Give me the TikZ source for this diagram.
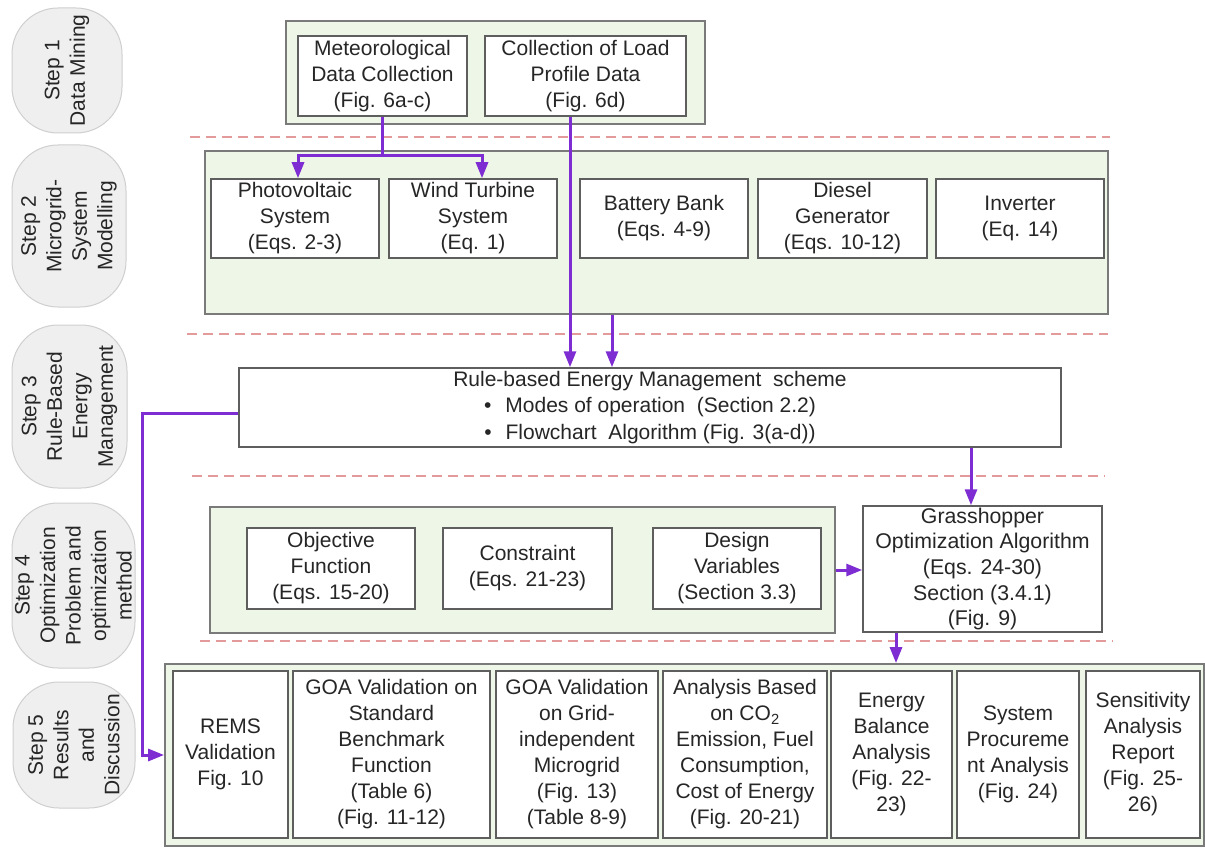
\documentclass[tikz,border=0pt]{standalone}
\usepackage{fontspec}
\setmainfont{Liberation Sans}
\usetikzlibrary{arrows.meta}
\definecolor{grp}{HTML}{EEF6E7}
\definecolor{grpline}{HTML}{7A7A7A}
\definecolor{boxline}{HTML}{5E5E5E}
\definecolor{pur}{RGB}{125,45,210}
\definecolor{dashcol}{HTML}{E39A9A}
\definecolor{stepfill}{HTML}{EFEFEF}
\definecolor{stepline}{HTML}{CFCFCF}
\definecolor{txt}{HTML}{262626}
\begin{document}
\begin{tikzpicture}[x=1pt,y=-1pt,
  grpbox/.style={draw=grpline, fill=grp, line width=1.8pt, inner sep=0pt},
  ibox/.style={draw=boxline, fill=white, line width=1.5pt, inner sep=0pt, align=center, text=txt, font=\fontsize{21}{26}\selectfont},
  stepbox/.style={draw=stepline, fill=stepfill, line width=1pt, rounded corners=46pt, rotate=90, align=center, text=txt, font=\fontsize{21}{25.5}\selectfont, inner sep=0pt},
  pa/.style={draw=pur, line width=3pt, -{Triangle[length=16pt,width=12pt]}},
  dline/.style={draw=dashcol, line width=1.6pt, dash pattern=on 10pt off 6pt},
]
\useasboundingbox (0,0) rectangle (1205,848);

% step labels
\node[stepbox, minimum width=125pt, minimum height=110pt] (s1) at (67,70.5) {Step 1\\Data Mining};
\node[stepbox, minimum width=162pt, minimum height=114pt] (s2l) at (69,226) {Step 2\\Microgrid-\\System\\Modelling};
\node[stepbox, minimum width=163pt, minimum height=115pt] (s3l) at (69.5,406.5) {Step 3\\Rule-Based\\Energy\\Management};
\node[stepbox, minimum width=165pt, minimum height=123pt] (s4l) at (73.5,585.5) {Step 4\\Optimization\\Problem and\\optimization\\method};
\node[stepbox, minimum width=126pt, minimum height=122pt] (s5l) at (74,745) {Step 5\\Results\\and\\Discussion};

% dashed separators
\coordinate (d1a) at (190,137); \coordinate (d1b) at (1110,137);
\coordinate (d2a) at (187,334); \coordinate (d2b) at (1108,334);
\coordinate (d3a) at (192,476); \coordinate (d3b) at (1105,476);
\coordinate (d4a) at (200,641); \coordinate (d4b) at (1113,641);
\draw[dline] (d1a) -- (d1b);
\draw[dline] (d2a) -- (d2b);
\draw[dline] (d3a) -- (d3b);
\draw[dline] (d4a) -- (d4b);

% groups
\node[grpbox, minimum width=419pt, minimum height=103pt] (g1) at (495.5,72.5) {};
\node[grpbox, minimum width=903pt, minimum height=163pt] (g2) at (656.5,232.5) {};
\node[grpbox, minimum width=625pt, minimum height=126pt] (g4) at (522.5,570) {};
\node[grpbox, minimum width=1039pt, minimum height=182pt] (g5) at (684.5,755) {};

% step 1
\node[ibox, minimum width=169pt, minimum height=80pt] (met) at (382.5,76) {Meteorological\\Data Collection\\(Fig. 6a-c)};
\node[ibox, minimum width=201pt, minimum height=80pt] (load) at (585.5,76) {Collection of Load\\Profile Data\\(Fig. 6d)};

% step 2
\node[ibox, minimum width=168pt, minimum height=79pt] (pv) at (295,218.5) {Photovoltaic\\System\\(Eqs. 2-3)};
\node[ibox, minimum width=168pt, minimum height=79pt] (wind) at (473,218.5) {Wind Turbine\\System\\(Eq. 1)};
\node[ibox, minimum width=168pt, minimum height=79pt] (bat) at (664,218.5) {Battery Bank\\(Eqs. 4-9)};
\node[ibox, minimum width=169pt, minimum height=79pt] (dg) at (842.5,218.5) {Diesel\\Generator\\(Eqs. 10-12)};
\node[ibox, minimum width=168pt, minimum height=79pt] (inv) at (1020,218.5) {Inverter\\(Eq. 14)};

% step 3
\node[ibox, minimum width=822pt, minimum height=79pt, font=\fontsize{21}{26.5}\selectfont] (rule) at (650,407.5)
  {Rule-based Energy Management\ \ scheme\\\textbullet\hspace{14pt}Modes of operation\ \ (Section 2.2)\\\textbullet\hspace{14pt}Flowchart\ \ Algorithm (Fig. 3(a-d))};

% step 4
\node[ibox, minimum width=168pt, minimum height=81pt] (obj) at (331,568.5) {Objective\\Function\\(Eqs. 15-20)};
\node[ibox, minimum width=169pt, minimum height=81pt] (con) at (527.5,568.5) {Constraint\\(Eqs. 21-23)};
\node[ibox, minimum width=168pt, minimum height=81pt] (dv) at (737,568.5) {Design\\Variables\\(Section 3.3)};
\node[ibox, minimum width=239pt, minimum height=126pt, font=\fontsize{21.3}{25.6}\selectfont] (goa) at (982.5,569) {Grasshopper\\Optimization Algorithm\\(Eqs. 24-30)\\Section (3.4.1)\\(Fig. 9)};

% step 5
\node[ibox, minimum width=115pt, minimum height=167pt] (rems) at (230.5,754.5) {REMS\\Validation\\Fig. 10};
\node[ibox, minimum width=197pt, minimum height=167pt] (gstd) at (391.5,754.5) {GOA Validation on\\Standard\\Benchmark\\Function\\(Table 6)\\(Fig. 11-12)};
\node[ibox, minimum width=162pt, minimum height=167pt] (ggrid) at (577,754.5) {GOA Validation\\on Grid-\\independent\\Microgrid\\(Fig. 13)\\(Table 8-9)};
\node[ibox, minimum width=164pt, minimum height=167pt] (ana) at (745,754.5) {Analysis Based\\on CO\textsubscript{2}\\Emission, Fuel\\Consumption,\\Cost of Energy\\(Fig. 20-21)};
\node[ibox, minimum width=121pt, minimum height=167pt] (eb) at (891.5,754.5) {Energy\\Balance\\Analysis\\(Fig. 22-\\23)};
\node[ibox, minimum width=122pt, minimum height=167pt] (sp) at (1018,754.5) {System\\Procureme\\nt Analysis\\(Fig. 24)};
\node[ibox, minimum width=114pt, minimum height=167pt] (sa) at (1143,754.5) {Sensitivity\\Analysis\\Report\\(Fig. 25-\\26)};

% connectors
\coordinate (jl) at (298,156);
\coordinate (jr) at (482,156);
\draw[pa] (met.south) |- (jl) -- (jl |- pv.north);
\draw[pa] (met.south |- jr) -- (jr) -- (jr |- wind.north);
\coordinate (la) at ([xshift=-15.5pt]load.south);
\draw[pa] (la) -- (la |- rule.north);
\coordinate (ga) at ([xshift=-44.5pt]g2.south);
\draw[pa] (ga) -- (ga |- rule.north);
\coordinate (ra) at ([xshift=321pt]rule.south);
\draw[pa] (ra) -- (ra |- goa.north);
\draw[pa] (g4.east) -- (g4.east -| goa.west);
\coordinate (gb) at ([xshift=-86.5pt]goa.south);
\draw[pa] (gb) -- (gb |- g5.north);
\coordinate (lx) at (142,755);
\draw[pa] ([yshift=-5.5pt]rule.west) -| (lx) -- (g5.west);
\end{tikzpicture}
\end{document}
